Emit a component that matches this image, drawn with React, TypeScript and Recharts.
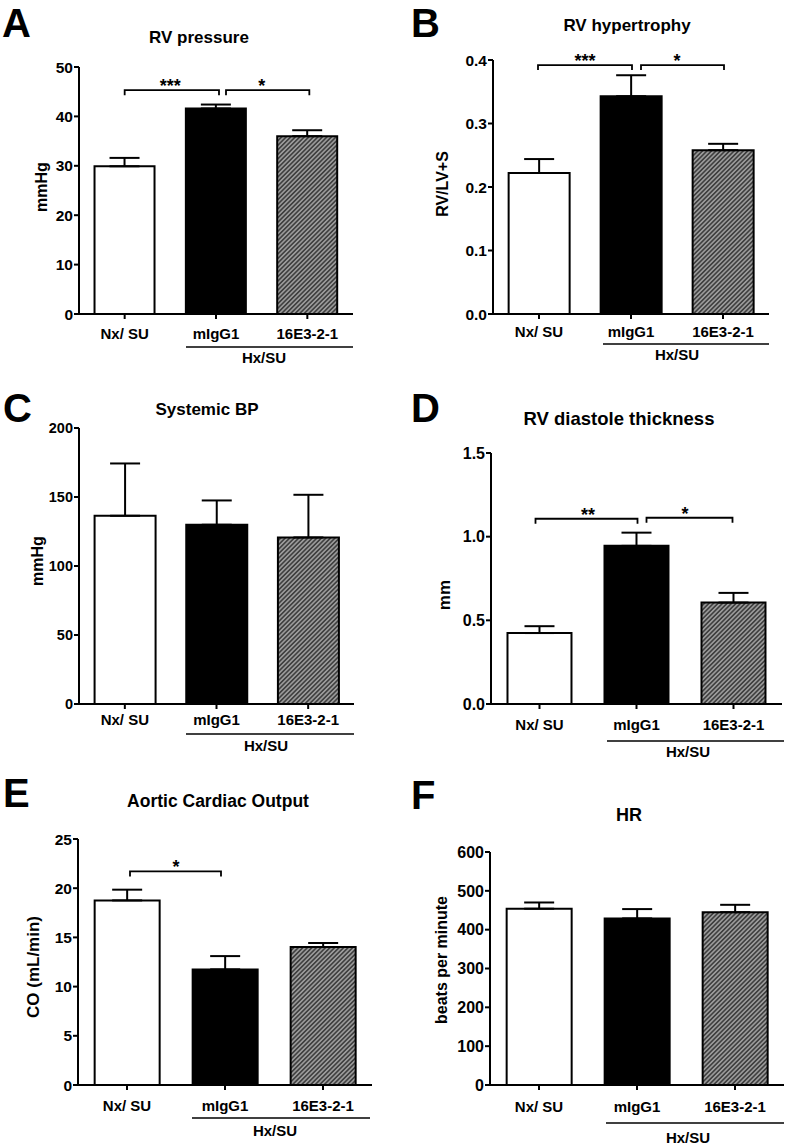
import React from "react";
import { BarChart, Bar, XAxis, YAxis, Cell, ErrorBar, ReferenceLine } from "recharts";

const groups = ["Nx/ SU", "mIgG1", "16E3-2-1"];

const rvPressure = [29.9, 41.6, 36.0];
const rvPressureSem = [1.7, 0.8, 1.2];
const rvPressureTicks = [0, 10, 20, 30, 40, 50];

const rvHypertrophy = [0.222, 0.343, 0.258];
const rvHypertrophySem = [0.022, 0.033, 0.01];
const rvHypertrophyTicks = [0, 0.1, 0.2, 0.3, 0.4];

const systemicBp = [136.4, 129.9, 120.7];
const systemicBpSem = [37.9, 17.6, 30.9];
const systemicBpTicks = [0, 50, 100, 150, 200];

const rvDiastole = [0.424, 0.945, 0.606];
const rvDiastoleSem = [0.041, 0.079, 0.058];
const rvDiastoleTicks = [0, 0.5, 1.0, 1.5];

const cardiacOutput = [18.76, 11.75, 14.02];
const cardiacOutputSem = [1.09, 1.35, 0.41];
const cardiacOutputTicks = [0, 5, 10, 15, 20, 25];

const heartRate = [454, 429, 445];
const heartRateSem = [16, 24, 19];
const heartRateTicks = [0, 100, 200, 300, 400, 500, 600];

// significance brackets between groups; dx = small pixel nudge of each end
const rvPressureBrackets = [
  { from: "Nx/ SU", to: "mIgG1", y: 45.3, stars: "***", dx: [0, 3] },
  { from: "mIgG1", to: "16E3-2-1", y: 45.3, stars: "*", dx: [10, 2] },
];
const rvHypertrophyBrackets = [
  { from: "Nx/ SU", to: "mIgG1", y: 0.392, stars: "***", dx: [-1, 1] },
  { from: "mIgG1", to: "16E3-2-1", y: 0.392, stars: "*", dx: [10, 1] },
];
const rvDiastoleBrackets = [
  { from: "Nx/ SU", to: "mIgG1", y: 1.107, stars: "**", dx: [-4, 1] },
  { from: "mIgG1", to: "16E3-2-1", y: 1.113, stars: "*", dx: [10, -1] },
];
const cardiacOutputBrackets = [{ from: "Nx/ SU", to: "mIgG1", y: 21.7, stars: "*", dx: [3, -4] }];

const FONT = '"Liberation Sans", Arial, Helvetica, sans-serif';
const W = 394;
const H = 382;
const YW = 40;

const int = (v: number) => String(v);
const one = (v: number) => v.toFixed(1);

const panels = [
  {
    letter: "A", left: 0, top: 0, title: "RV pressure", titleSize: 17, yLabel: "mmHg", yLabelSize: 16,
    values: rvPressure, sem: rvPressureSem, ticks: rvPressureTicks, fmt: int, brackets: rvPressureBrackets,
    margin: { top: 67, right: 41, bottom: 28, left: 79 - YW }, xTickMargin: 9, yTickSize: 15.5,
    letterPos: [2, 37], titlePos: [199, 43], yLabelPos: [41, 187], groupLine: [186, 353, 347], hxPos: [264, 363],
  },
  {
    letter: "B", left: 394, top: 0, title: "RV hypertrophy", titleSize: 17, yLabel: "RV/LV+S", yLabelSize: 16,
    values: rvHypertrophy, sem: rvHypertrophySem, ticks: rvHypertrophyTicks, fmt: one, brackets: rvHypertrophyBrackets,
    margin: { top: 60, right: 19, bottom: 28, left: 99 - YW }, xTickMargin: 7, yTickSize: 15.5,
    letterPos: [17, 37], titlePos: [233, 31], yLabelPos: [48, 184], groupLine: [209, 375, 344], hxPos: [283, 360],
  },
  {
    letter: "C", left: 0, top: 382, title: "Systemic BP", titleSize: 17, yLabel: "mmHg", yLabelSize: 16,
    values: systemicBp, sem: systemicBpSem, ticks: systemicBpTicks, fmt: int, brackets: [],
    margin: { top: 46, right: 40, bottom: 20, left: 79 - YW }, xTickMargin: 5, yTickSize: 14.5,
    letterPos: [3, 40], titlePos: [207, 33], yLabelPos: [37, 179], groupLine: [186, 354, 352], hxPos: [266, 369],
  },
  {
    letter: "D", left: 394, top: 382, title: "RV diastole thickness", titleSize: 18.5, yLabel: "mm", yLabelSize: 17,
    values: rvDiastole, sem: rvDiastoleSem, ticks: rvDiastoleTicks, fmt: one, brackets: rvDiastoleBrackets,
    margin: { top: 71, right: 6, bottom: 20, left: 97 - YW }, xTickMargin: 10, yTickSize: 16,
    letterPos: [17, 40], titlePos: [225, 43], yLabelPos: [50, 213], groupLine: [213, 390, 359], hxPos: [294, 375],
  },
  {
    letter: "E", left: 0, top: 764, title: "Aortic Cardiac Output", titleSize: 17.5, yLabel: "CO (mL/min)", yLabelSize: 17,
    values: cardiacOutput, sem: cardiacOutputSem, ticks: cardiacOutputTicks, fmt: int, brackets: cardiacOutputBrackets,
    margin: { top: 75, right: 22, bottom: 21, left: 78 - YW }, xTickMargin: 10, yTickSize: 15.5,
    letterPos: [3, 43], titlePos: [218, 43], yLabelPos: [33, 203], groupLine: [192, 370, 354], hxPos: [275, 372],
  },
  {
    letter: "F", left: 394, top: 764, title: "HR", titleSize: 18, yLabel: "beats per minute", yLabelSize: 16,
    values: heartRate, sem: heartRateSem, ticks: heartRateTicks, fmt: int, brackets: [],
    margin: { top: 88, right: 4, bottom: 21, left: 96 - YW }, xTickMargin: 11, yTickSize: 16,
    letterPos: [17, 45], titlePos: [235, 57], yLabelPos: [47, 196], groupLine: [212, 390, 359], hxPos: [294, 379],
  },
];

const makeBracket = (dx: number[]) => (props: any) => {
  const { x1, y1, x2 } = props;
  const a = x1 + dx[0];
  const b = x2 + dx[1];
  const drop = 5;
  return (
    <path
      d={`M${a},${y1 + drop}L${a},${y1}L${b},${y1}L${b},${y1 + drop}`}
      fill="none"
      stroke="#000"
      strokeWidth={1.8}
    />
  );
};

function Panel({ p }: { p: any }) {
  const data = groups.map((g, i) => ({ group: g, value: p.values[i], sem: p.sem[i] }));
  const hatchId = `hatch-${p.letter}`;
  const fills = ["#ffffff", "#000000", `url(#${hatchId})`];
  const max = p.ticks[p.ticks.length - 1];

  return (
    <div style={{ position: "absolute", left: p.left, top: p.top, width: W, height: H }}>
      <BarChart width={W} height={H} data={data} margin={p.margin} barCategoryGap="17%">
        <defs>
          <pattern id={hatchId} width="3.2" height="3.2" patternUnits="userSpaceOnUse" patternTransform="rotate(45)">
            <rect width="3.2" height="3.2" fill="#9a9a9a" />
            <line x1="1.6" y1="0" x2="1.6" y2="3.2" stroke="#2b2b2b" strokeWidth="1.3" />
          </pattern>
        </defs>
        <XAxis
          dataKey="group"
          height={40}
          interval={0}
          axisLine={{ stroke: "#000", strokeWidth: 2 }}
          tickLine={{ stroke: "#000", strokeWidth: 2 }}
          tickSize={5}
          tickMargin={p.xTickMargin}
          tick={{ fill: "#000", fontSize: 15, fontWeight: "bold", fontFamily: FONT }}
        />
        <YAxis
          width={YW}
          domain={[0, max]}
          ticks={p.ticks}
          interval={0}
          allowDataOverflow
          tickFormatter={p.fmt}
          axisLine={{ stroke: "#000", strokeWidth: 2 }}
          tickLine={{ stroke: "#000", strokeWidth: 2 }}
          tickSize={5}
          tickMargin={1}
          tick={{ fill: "#000", fontSize: p.yTickSize, fontWeight: "bold", fontFamily: FONT }}
        />
        <Bar dataKey="value" stroke="#000" strokeWidth={2} isAnimationActive={false}>
          {data.map((d, i) => (
            <Cell key={d.group} fill={fills[i]} />
          ))}
          <ErrorBar
            dataKey={(d: any) => [0, d.sem]}
            direction="y"
            width={15}
            stroke="#000"
            strokeWidth={2}
            isAnimationActive={false}
          />
        </Bar>
        {p.brackets.map((b: any, i: number) => (
          <ReferenceLine
            key={i}
            segment={[
              { x: b.from, y: b.y },
              { x: b.to, y: b.y },
            ]}
            shape={makeBracket(b.dx)}
            label={{
              value: b.stars,
              position: "top",
              offset: -2,
              fill: "#000",
              fontSize: 18,
              fontWeight: "bold",
              fontFamily: FONT,
            }}
          />
        ))}
      </BarChart>
      <svg
        width={W}
        height={H}
        style={{ position: "absolute", left: 0, top: 0, pointerEvents: "none" }}
        fontFamily={FONT}
        fontWeight="bold"
        fill="#000"
      >
        <text x={p.letterPos[0]} y={p.letterPos[1]} fontSize={40}>
          {p.letter}
        </text>
        <text x={p.titlePos[0]} y={p.titlePos[1]} fontSize={p.titleSize} textAnchor="middle">
          {p.title}
        </text>
        <text
          x={p.yLabelPos[0]}
          y={p.yLabelPos[1]}
          fontSize={p.yLabelSize}
          textAnchor="middle"
          dominantBaseline="central"
          transform={`rotate(-90 ${p.yLabelPos[0]} ${p.yLabelPos[1]})`}
        >
          {p.yLabel}
        </text>
        <line
          x1={p.groupLine[0]}
          x2={p.groupLine[1]}
          y1={p.groupLine[2]}
          y2={p.groupLine[2]}
          stroke="#000"
          strokeWidth={1.6}
        />
        <text x={p.hxPos[0]} y={p.hxPos[1]} fontSize={15} textAnchor="middle">
          Hx/SU
        </text>
      </svg>
    </div>
  );
}

export default function App() {
  return (
    <div style={{ position: "absolute", left: 0, top: 0, width: 788, height: 1146, background: "#fff" }}>
      {panels.map((p) => (
        <Panel key={p.letter} p={p} />
      ))}
    </div>
  );
}
